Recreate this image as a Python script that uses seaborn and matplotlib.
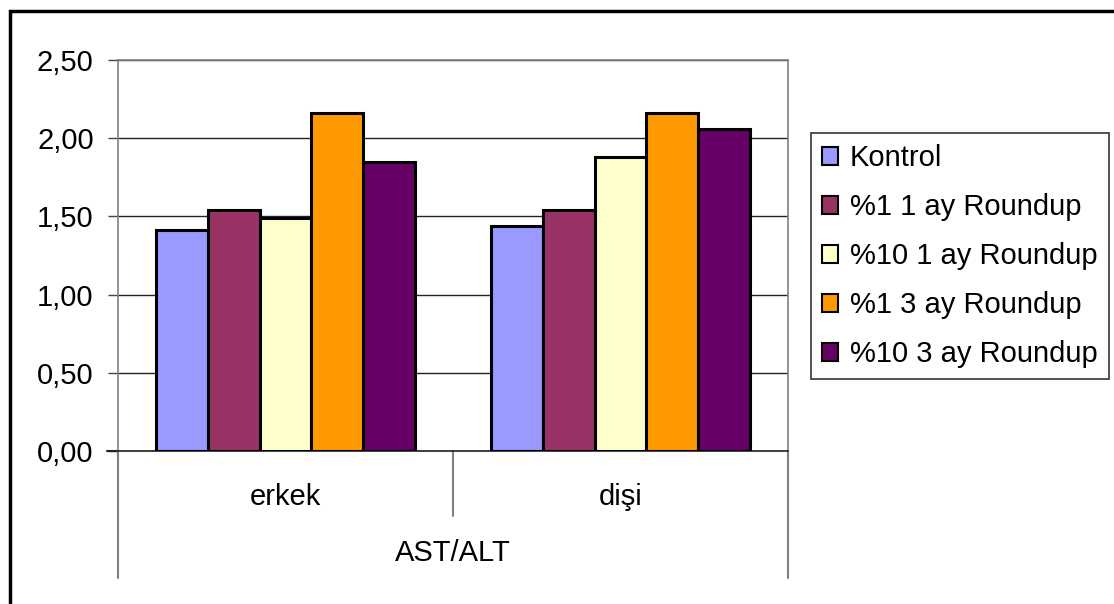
import numpy as np
import pandas as pd
import matplotlib
matplotlib.use("Agg")
import matplotlib.pyplot as plt
from matplotlib.lines import Line2D
from matplotlib.patches import Rectangle
import seaborn as sns

# --- data -------------------------------------------------------------
categories = ["erkek", "dişi"]
groups = ["Kontrol", "%1 1 ay Roundup", "%10 1 ay Roundup",
          "%1 3 ay Roundup", "%10 3 ay Roundup"]
erkek_values = [1.41, 1.54, 1.49, 2.16, 1.85]
disi_values = [1.44, 1.54, 1.88, 2.16, 2.06]
group_title = "AST/ALT"
ytick_values = [0.0, 0.5, 1.0, 1.5, 2.0, 2.5]
ytick_labels = ["0,00", "0,50", "1,00", "1,50", "2,00", "2,50"]
colors = ["#9999FF", "#993366", "#FFFFCC", "#FF9900", "#660066"]

df = pd.DataFrame({
    "kategori": np.repeat(categories, len(groups)),
    "grup": groups * len(categories),
    "deger": erkek_values + disi_values,
})

# --- style ------------------------------------------------------------
sns.set_style("white")
plt.rcParams["font.family"] = ["Liberation Sans", "DejaVu Sans"]
plt.rcParams["text.color"] = "black"
plt.rcParams["ytick.labelcolor"] = "black"

W, H = 1114, 604
fig = plt.figure(figsize=(W / 100, H / 100), dpi=100)
ax = fig.add_axes([118 / W, 1 - 451 / H, (788 - 118) / W, (451 - 60) / H])

sns.barplot(data=df, x="kategori", y="deger", hue="grup", order=categories,
            hue_order=groups, palette=colors, width=0.774, saturation=1,
            edgecolor="black", linewidth=2.2, errorbar=None, ax=ax,
            legend=True, zorder=3)

ax.set_xlim(-0.5, 1.5)
ax.set_ylim(0, 2.5)
ax.set_yticks(ytick_values)
ax.set_yticklabels(ytick_labels, fontsize=21, color="black")
ax.set_xticks([])
ax.set_xlabel("")
ax.set_ylabel("")
ax.tick_params(axis="y", direction="out", length=7.5, width=1.0,
               color="#444444", pad=10, left=True)

# gridlines
ax.yaxis.grid(True, color="#222222", linewidth=1.0, zorder=0)
ax.set_axisbelow(True)

# plot area frame
for side in ["top", "right"]:
    ax.spines[side].set_visible(True)
    ax.spines[side].set_color("#808080")
    ax.spines[side].set_linewidth(1.2)
ax.spines["left"].set_color("#808080")
ax.spines["left"].set_linewidth(1.2)
ax.spines["bottom"].set_color("#222222")
ax.spines["bottom"].set_linewidth(1.2)

# multi-level category axis below the plot
line_kw = dict(transform=ax.transAxes, clip_on=False, color="#808080", lw=1.5)
ax.add_line(Line2D([-0.016, 0], [0, 0], **{**line_kw, "color": "#222222"}))
ax.add_line(Line2D([0, 0], [0, -0.325], **line_kw))
ax.add_line(Line2D([1, 1], [0, -0.325], **line_kw))
ax.add_line(Line2D([0.5, 0.5], [0, -0.166], **line_kw))
for i, cat in enumerate(categories):
    ax.text((i + 0.5) / len(categories), -0.118, cat, transform=ax.transAxes,
            ha="center", va="center", fontsize=21, color="black")
ax.text(0.5, -0.261, group_title, transform=ax.transAxes,
        ha="center", va="center", fontsize=21, color="black")

# legend
handles, labels = ax.get_legend_handles_labels()
ax.legend_.remove()
leg = fig.legend(handles, labels, loc="upper left",
                 bbox_to_anchor=(811 / W, 1 - 133 / H), borderaxespad=0,
                 fontsize=21, frameon=True, fancybox=False, shadow=False,
                 handlelength=0.55, handleheight=0.55, handletextpad=0.4,
                 labelspacing=0.72, borderpad=0.38, labelcolor="black")
leg.get_frame().set_edgecolor("black")
leg.get_frame().set_linewidth(1.2)
for h in leg.legend_handles:
    h.set_edgecolor("black")
    h.set_linewidth(1.5)

# outer chart border
fig.patches.append(Rectangle((9.5 / W, -0.1), 1.2, 1 - 11 / H + 0.1,
                             transform=fig.transFigure, fill=False,
                             edgecolor="black", linewidth=2.5))

fig.savefig("out.png", dpi=100, facecolor="white")
